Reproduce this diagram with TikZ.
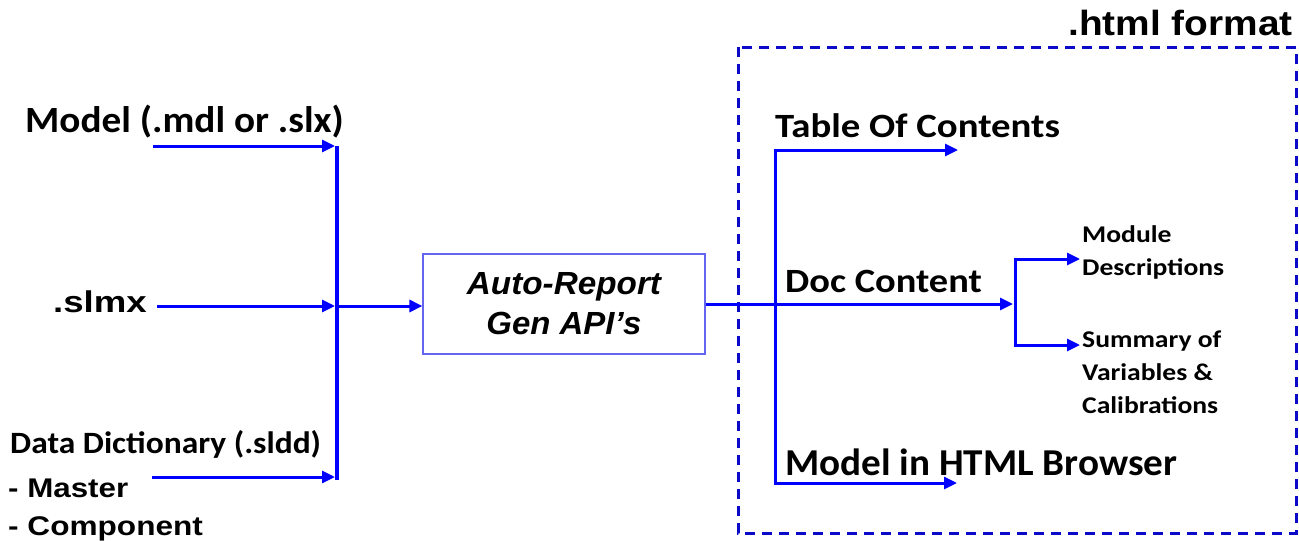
\documentclass[tikz,border=0pt]{standalone}
\usepackage{fontspec}
\usepackage{graphicx}
\usetikzlibrary{arrows.meta}
\newfontfamily\calfont{Carlito}
\newfontfamily\arfont{Liberation Sans}
\newcommand{\wx}[2]{\scalebox{#1}[1]{#2}}
\definecolor{flow}{RGB}{0,0,255}
\definecolor{frame}{RGB}{10,10,200}
\definecolor{boxline}{RGB}{100,100,240}
\tikzset{
  cal/.style={inner sep=0pt, font=\calfont\bfseries},
  ar/.style={inner sep=0pt, font=\arfont\bfseries},
  arr/.style={draw=flow, line width=3pt, -{Triangle[length=13pt,width=12pt]}},
  bus/.style={draw=flow, line width=4.5pt},
  apibox/.style={draw=boxline, line width=1.2pt, minimum width=282pt, minimum height=100pt,
    inner sep=0pt, align=center, font=\arfont\bfseries\itshape\fontsize{32}{40}\selectfont},
  outfmt/.style={draw=frame, line width=3pt, dash pattern=on 10pt off 7pt}
}
\begin{document}
\begin{tikzpicture}[x=1pt, y=-1pt]
\useasboundingbox (0,0) rectangle (1299,541);

% ---- inputs ----
\node[cal, anchor=base west] (model) at (25,132) {\fontsize{37}{40}\selectfont\wx{1.06}{Model (.mdl or .slx)}};
\node[ar, anchor=base west] (slmx) at (53,312) {\fontsize{30}{34}\selectfont\wx{1.22}{.slmx}};
\node[cal, anchor=base west] (dd) at (10,453) {\fontsize{31}{34}\selectfont\wx{1.08}{Data Dictionary (.sldd)}};
\node[ar, anchor=base west] (master) at (8,497) {\fontsize{27}{30}\selectfont\wx{1.16}{- Master}};
\node[ar, anchor=base west] (comp) at (8,535) {\fontsize{27}{30}\selectfont\wx{1.17}{- Component}};

% ---- left bus ----
\coordinate (busTop) at (337,146);
\coordinate (busBot) at (337,480);
\coordinate (mS) at (153,146);
\coordinate (mT) at (335,146);
\coordinate (sS) at (157,306);
\coordinate (sT) at (335,306);
\coordinate (dS) at (152,477);
\coordinate (dT) at (335,477);
\coordinate (jL) at (339,306);
\draw[bus] (busTop) -- (busBot);
\draw[arr] (mS) -- (mT);
\draw[arr] (sS) -- (sT);
\draw[arr] (dS) -- (dT);

% ---- API block ----
\node[apibox] (api) at (564,304) {\wx{1.04}{Auto-Report}\\\wx{1.03}{Gen API’s}};
\draw[arr] (jL) -- (jL -| api.west);

% ---- output frame ----
\coordinate (frTL) at (738,47);
\coordinate (frBR) at (1296,533);
\draw[outfmt] (frTL) rectangle (frBR);
\node[ar, anchor=base east] (html) at (1293,35) {\fontsize{35}{38}\selectfont\wx{1.11}{.html format}};

% ---- right bus ----
\coordinate (rMid) at (775,304);
\coordinate (tocT) at (958,150);
\coordinate (mhbT) at (957,483);
\coordinate (docT) at (1013,304);
\coordinate (dBr) at (1015,304);
\coordinate (modT) at (1080,259);
\coordinate (sumT) at (1080,345);
\draw[arr] (api.east) -- (docT);
\draw[arr, line join=miter] (rMid) |- (tocT);
\draw[arr, line join=miter] (rMid) |- (mhbT);
\draw[arr, line join=miter] (dBr) |- (modT);
\draw[arr, line join=miter] (dBr) |- (sumT);

% ---- output labels (multi-line nodes sit on their last baseline) ----
\node[cal, anchor=base west] (toc) at (775,137) {\fontsize{34}{38}\selectfont\wx{1.14}{Table Of Contents}};
\node[cal, anchor=base west] (doc) at (785,292) {\fontsize{34}{38}\selectfont\wx{1.13}{Doc Content}};
\node[cal, anchor=base west] (mhb) at (785,475) {\fontsize{38}{40}\selectfont\wx{1.03}{Model in HTML Browser}};
\node[cal, anchor=base west, align=left, font=\calfont\bfseries\fontsize{24}{33}\selectfont] (mod) at (1082,275)
  {\wx{1.15}{Module}\\\wx{1.15}{Descriptions}};
\node[cal, anchor=base west, align=left, font=\calfont\bfseries\fontsize{24}{33}\selectfont] (sum) at (1082,413)
  {\wx{1.15}{Summary of}\\\wx{1.15}{Variables \&}\\\wx{1.15}{Calibrations}};
\end{tikzpicture}
\end{document}
